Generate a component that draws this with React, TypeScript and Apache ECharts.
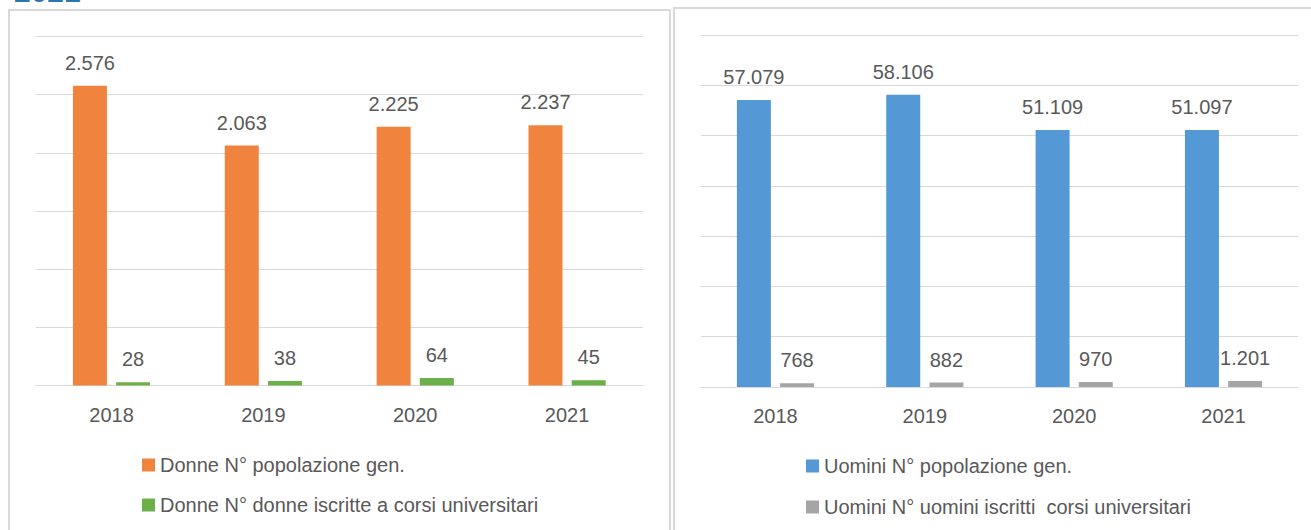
import React, { useEffect, useRef } from "react";
import * as echarts from "echarts";

const years = ["2018", "2019", "2020", "2021"];
const donnePop = [2576, 2063, 2225, 2237];
const donneIscritte = [28, 38, 64, 45];
const uominiPop = [57079, 58106, 51109, 51097];
const uominiIscritti = [768, 882, 970, 1201];

const seriesNames = [
  "Donne N° popolazione gen.",
  "Donne N° donne iscritte a corsi universitari",
  "Uomini N° popolazione gen.",
  "Uomini N° uomini iscritti  corsi universitari",
];

const FONT = "'Liberation Sans', Arial, sans-serif";
const FS = 20;
const TXT = "#595959";
const GRID = "#d9d9d9";

const fmt = (v: number) => String(v).replace(/\B(?=(\d{3})+(?!\d))/g, ".");

export default function App() {
  const ref = useRef<HTMLDivElement>(null);
  useEffect(() => {
    if (!ref.current) return;
    const chart = echarts.init(ref.current, undefined, { renderer: "svg" });
    const label = {
      show: true,
      position: "top" as const,
      distance: 13,
      color: TXT,
      fontSize: FS,
      fontFamily: FONT,
      formatter: (p: any) => fmt(p.value),
    };
    const xAxisBase = {
      type: "category" as const,
      data: years,
      axisLine: { lineStyle: { color: GRID, width: 1 } },
      axisTick: { show: false },
      axisLabel: { color: TXT, fontSize: FS, fontFamily: FONT, margin: 19 },
    };
    const yAxisBase = {
      type: "value" as const,
      min: 0,
      axisLabel: { show: false },
      axisLine: { show: false },
      axisTick: { show: false },
      splitLine: { lineStyle: { color: GRID, width: 1 } },
    };
    const legendText = { color: TXT, fontSize: FS, fontFamily: FONT, lineHeight: 24 };
    chart.setOption({
      animation: false,
      backgroundColor: "#ffffff",
      graphic: [
        {
          type: "rect",
          shape: { x: 9, y: 10, width: 661, height: 600 },
          style: { fill: "none", stroke: GRID, lineWidth: 2 },
          silent: true,
        },
        {
          type: "rect",
          shape: { x: 674, y: 8, width: 700, height: 600 },
          style: { fill: "none", stroke: GRID, lineWidth: 2 },
          silent: true,
        },
        {
          type: "text",
          left: 14,
          top: -24,
          style: {
            text: "2021",
            fill: "#2e75b6",
            fontSize: 30,
            fontWeight: "bold",
            fontFamily: "'Liberation Sans', sans-serif",
          },
          silent: true,
        },
      ],
      grid: [
        { left: 35.6, top: 36.5, width: 607.4, height: 349 },
        { left: 700.8, top: 35, width: 597.4, height: 352 },
      ],
      xAxis: [
        { ...xAxisBase, gridIndex: 0 },
        { ...xAxisBase, gridIndex: 1 },
      ],
      yAxis: [
        { ...yAxisBase, gridIndex: 0, max: 3000, interval: 500 },
        { ...yAxisBase, gridIndex: 1, max: 70000, interval: 10000 },
      ],
      legend: [
        {
          data: [seriesNames[0], seriesNames[1]],
          orient: "vertical",
          left: 142,
          top: 453,
          padding: 0,
          itemWidth: 13,
          itemHeight: 13,
          itemGap: 16,
          icon: "rect",
          textStyle: legendText,
        },
        {
          data: [seriesNames[2], seriesNames[3]],
          orient: "vertical",
          left: 806,
          top: 454,
          padding: 0,
          itemWidth: 13,
          itemHeight: 13,
          itemGap: 17,
          icon: "rect",
          textStyle: legendText,
        },
      ],
      series: [
        {
          name: seriesNames[0],
          type: "bar",
          xAxisIndex: 0,
          yAxisIndex: 0,
          data: donnePop,
          barWidth: 34,
          barGap: "27%",
          itemStyle: { color: "#f0843f" },
          label,
        },
        {
          name: seriesNames[1],
          type: "bar",
          xAxisIndex: 0,
          yAxisIndex: 0,
          data: donneIscritte,
          barWidth: 34,
          barGap: "27%",
          itemStyle: { color: "#6cb04a" },
          label,
        },
        {
          name: seriesNames[2],
          type: "bar",
          xAxisIndex: 1,
          yAxisIndex: 1,
          data: uominiPop,
          barWidth: 34,
          barGap: "27%",
          itemStyle: { color: "#5499d5" },
          label,
        },
        {
          name: seriesNames[3],
          type: "bar",
          xAxisIndex: 1,
          yAxisIndex: 1,
          data: uominiIscritti,
          barWidth: 34,
          barGap: "27%",
          itemStyle: { color: "#a5a5a5" },
          label,
        },
      ],
    });
    return () => chart.dispose();
  }, []);
  return (
    <div
      ref={ref}
      style={{ position: "absolute", left: 0, top: 0, width: 1311, height: 530 }}
    />
  );
}
